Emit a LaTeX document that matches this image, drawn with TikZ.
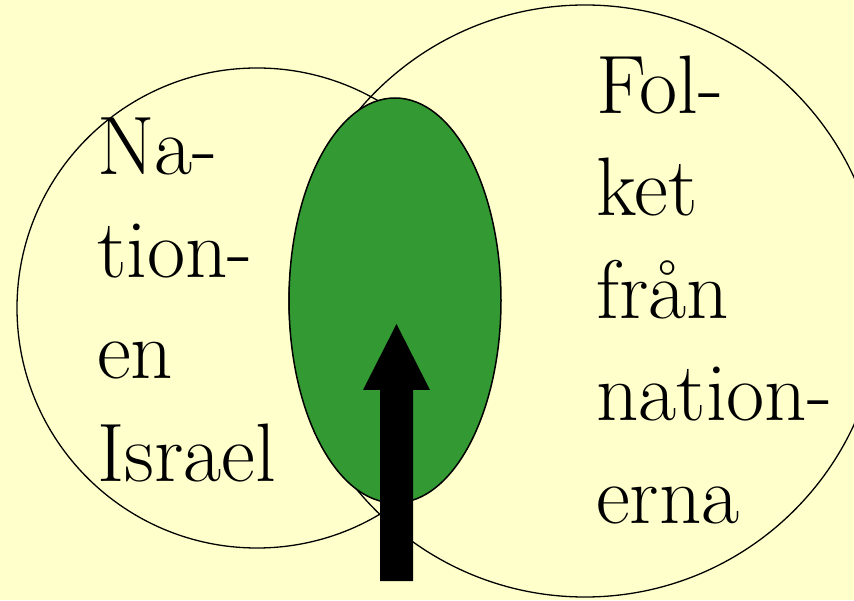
\documentclass[tikz,border=0pt]{standalone}
\usepackage{fontspec}
\definecolor{bgyellow}{RGB}{255,255,204}
\definecolor{leafgreen}{RGB}{51,153,51}
\begin{document}
\begin{tikzpicture}[x=1pt,y=1pt,
  ring/.style={draw=black,line width=1.3pt},
  venntxt/.style={anchor=base west,inner sep=0pt,font=\rmfamily\fontsize{83}{102}\selectfont}]
\fill[bgyellow] (0,0) rectangle (854,600);
\useasboundingbox (0,0) rectangle (854,600);
\begin{scope}
\clip (0,0) rectangle (854,600);
\draw[ring] (257,292) circle[radius=240];
\draw[ring] (585,299) circle[radius=296];
\draw[fill=leafgreen,draw=black,line width=1.5pt] (395,299.5) ellipse[x radius=106,y radius=202.5];
\fill[black] (380,19) -- (413,19) -- (413,210) -- (430,210) -- (396.5,276) -- (363,210) -- (380,210) -- cycle;
\end{scope}
\node[venntxt] (l1) at (97,425) {Na-};
\node[venntxt] (l2) at (97,322) {tion-};
\node[venntxt] (l3) at (97,221) {en};
\node[venntxt] (l4) at (97,118) {Israel};
\node[venntxt] (r1) at (596,486) {Fol-};
\node[venntxt] (r2) at (596,384) {ket};
\node[venntxt] (r3) at (596,281) {från};
\node[venntxt] (r4) at (596,179) {nation-};
\node[venntxt] (r5) at (596,77) {erna};
\end{tikzpicture}
\end{document}
